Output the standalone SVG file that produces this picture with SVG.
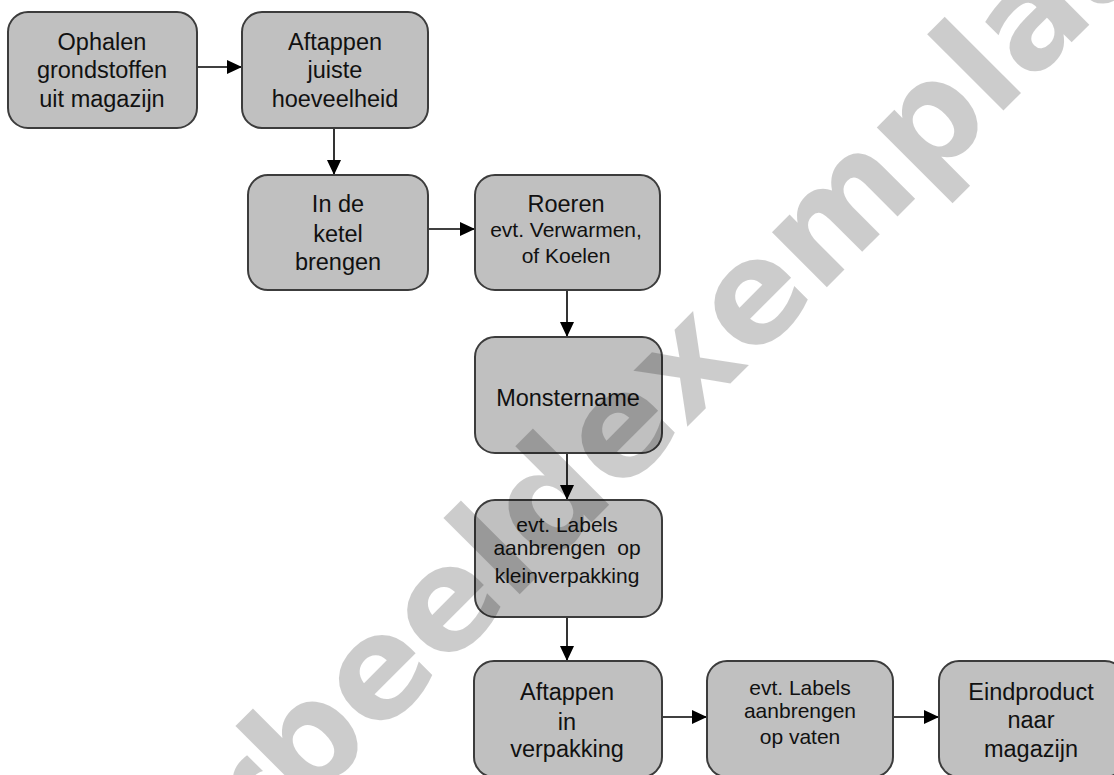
<svg xmlns="http://www.w3.org/2000/svg" width="1114" height="775" viewBox="0 0 1114 775">
<style>
.box{fill:#c0c0c0;stroke:#3c3c3c;stroke-width:2}
.t{font-family:"Liberation Sans",Arial,sans-serif;font-size:23.5px;fill:#111;text-anchor:middle}
.s{font-size:21px}
.c{stroke:#000;stroke-width:1.6;fill:none;marker-end:url(#ah)}
.wm{font-family:"DejaVu Sans",Verdana,sans-serif;font-weight:bold;font-size:142px;fill:#000;fill-opacity:0.2}
</style>
<defs>
<marker id="ah" markerUnits="userSpaceOnUse" markerWidth="16" markerHeight="14" refX="15" refY="7" orient="auto">
<path d="M0,0 L15,7 L0,14 z" fill="#000"/>
</marker>
</defs>
<rect width="1114" height="775" fill="#fff"/>
<g id="connectors">
<line class="c" x1="197" y1="67" x2="242" y2="67"/>
<line class="c" x1="334" y1="128" x2="334" y2="175"/>
<line class="c" x1="428" y1="229" x2="475" y2="229"/>
<line class="c" x1="567" y1="290" x2="567" y2="337"/>
<line class="c" x1="567" y1="453" x2="567" y2="500"/>
<line class="c" x1="567" y1="617" x2="567" y2="661"/>
<line class="c" x1="662" y1="717" x2="707" y2="717"/>
<line class="c" x1="893" y1="717" x2="939" y2="717"/>
</g>
<g id="n1"><rect class="box" x="8" y="12" width="189" height="116" rx="20"/>
<text class="t" x="102" y="50">Ophalen</text><text class="t" x="102" y="78">grondstoffen</text><text class="t" x="102" y="107">uit magazijn</text></g>
<g id="n2"><rect class="box" x="242" y="12" width="186" height="116" rx="20"/>
<text class="t" x="335" y="50">Aftappen</text><text class="t" x="335" y="78">juiste</text><text class="t" x="335" y="107">hoeveelheid</text></g>
<g id="n3"><rect class="box" x="248" y="175" width="180" height="115" rx="20"/>
<text class="t" x="338" y="212">In de</text><text class="t" x="338" y="242">ketel</text><text class="t" x="338" y="270">brengen</text></g>
<g id="n4"><rect class="box" x="475" y="175" width="185" height="115" rx="20"/>
<text class="t" x="566" y="212">Roeren</text><text class="t s" x="566" y="237">evt. Verwarmen,</text><text class="t s" x="566" y="263">of Koelen</text></g>
<g id="n5"><rect class="box" x="475" y="337" width="187" height="116" rx="20"/>
<text class="t" x="568" y="406">Monstername</text></g>
<g id="n6"><rect class="box" x="475" y="500" width="187" height="117" rx="20"/>
<text class="t s" x="567" y="532">evt. Labels</text><text class="t s" x="567" y="555" xml:space="preserve">aanbrengen  op</text><text class="t s" x="567" y="583">kleinverpakking</text></g>
<g id="n7"><rect class="box" x="474" y="661" width="188" height="116" rx="20"/>
<text class="t" x="567" y="700">Aftappen</text><text class="t" x="567" y="730">in</text><text class="t" x="567" y="757">verpakking</text></g>
<g id="n8"><rect class="box" x="707" y="661" width="186" height="116" rx="20"/>
<text class="t s" x="800" y="695">evt. Labels</text><text class="t s" x="800" y="718">aanbrengen</text><text class="t s" x="800" y="744">op vaten</text></g>
<g id="n9"><rect class="box" x="939" y="661" width="186" height="116" rx="20"/>
<text class="t" x="1031" y="700">Eindproduct</text><text class="t" x="1031" y="728">naar</text><text class="t" x="1031" y="757">magazijn</text></g>
<g id="watermark"><text class="wm" x="43.5" y="1070.5" transform="rotate(-45 43.5 1070.5)">Voorbeeldexemplaar</text></g>
</svg>
